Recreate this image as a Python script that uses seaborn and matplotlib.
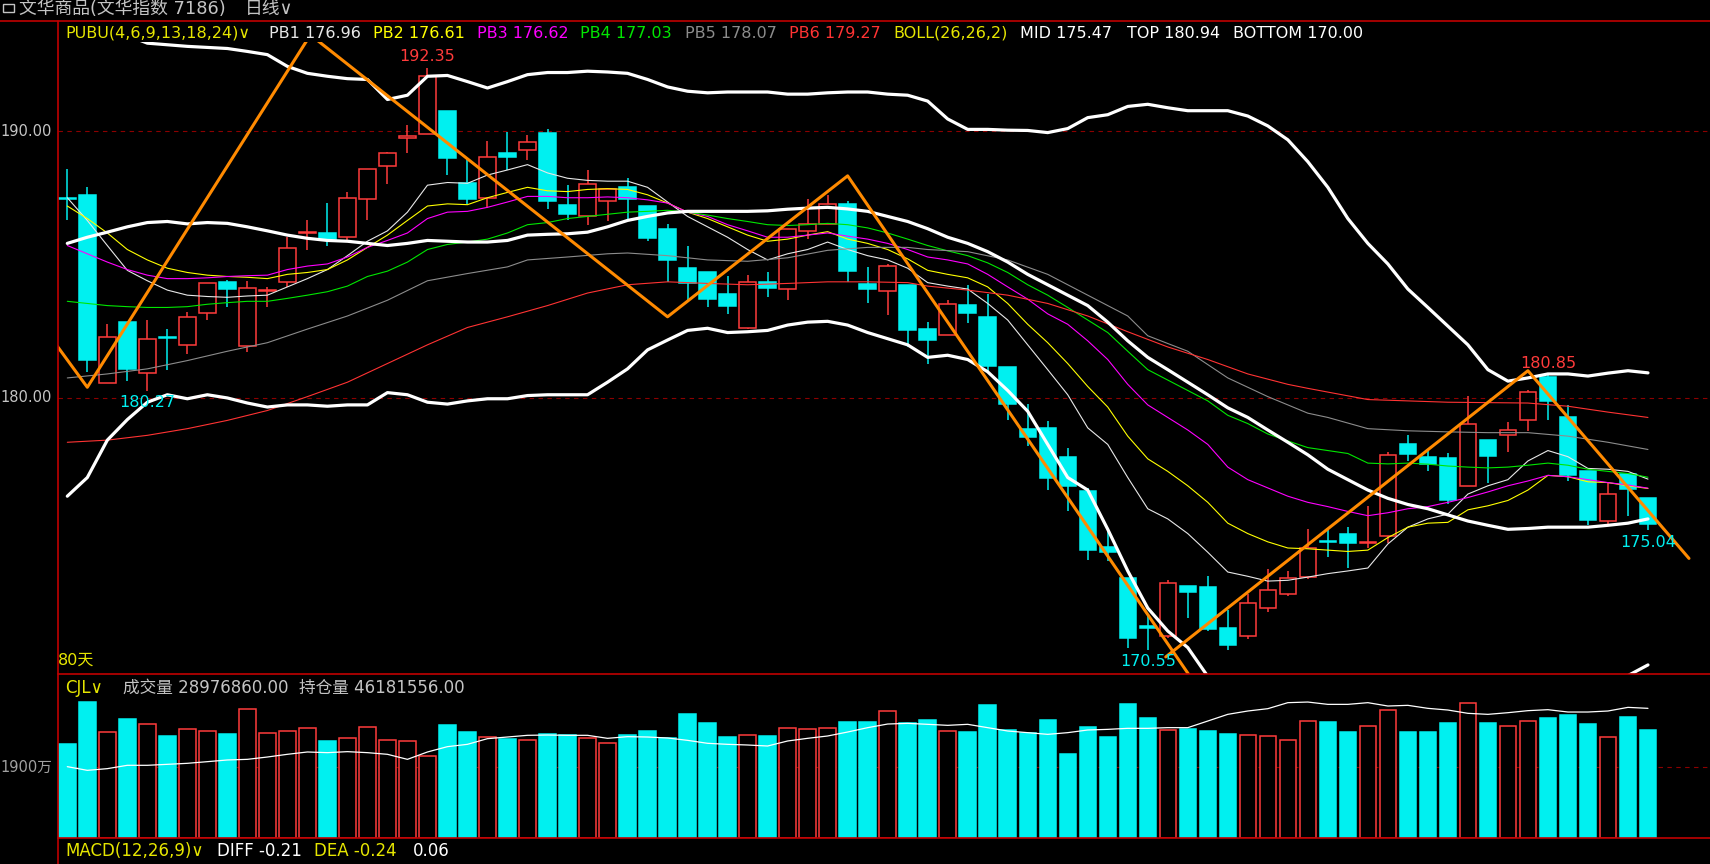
import numpy as np
import pandas as pd
import matplotlib
matplotlib.use("Agg")
import matplotlib.pyplot as plt
from matplotlib.patches import Rectangle
from matplotlib.lines import Line2D
import seaborn as sns

sns.set_theme(style="dark", rc={"axes.facecolor": "black", "figure.facecolor": "black"})
plt.rcParams["font.family"] = ["DejaVu Sans", "Noto Sans CJK SC"]

# ── data (80 daily bars) ──────────────────────────────────────────────
opens = [187.47, 187.61, 180.56, 182.84, 180.93, 182.28, 181.99, 183.20, 184.35, 181.94,
         184.02, 184.36, 186.18, 186.18, 186.02, 187.45, 188.70, 189.72, 189.88, 190.76,
         188.04, 187.50, 189.18, 189.29, 189.94, 187.24, 186.83, 187.38, 187.89, 187.19,
         186.34, 184.88, 184.72, 183.90, 182.61, 184.35, 184.08, 186.27, 186.52, 187.27,
         184.27, 184.00, 184.24, 182.58, 182.34, 183.49, 183.04, 181.16, 178.84, 178.88,
         177.80, 176.52, 174.43, 173.26, 171.43, 171.09, 172.94, 172.92, 171.38, 171.07,
         172.13, 172.64, 173.29, 174.62, 174.89, 174.57, 174.84, 178.26, 177.80, 177.75,
         176.71, 178.42, 178.60, 179.16, 180.78, 179.27, 177.25, 175.39, 177.14, 176.24]
highs = [188.59, 187.89, 182.76, 182.84, 182.92, 182.58, 183.23, 184.32, 184.43, 184.39,
         184.16, 186.03, 186.68, 187.30, 187.73, 188.57, 189.21, 190.22, 192.35, 190.76,
         188.94, 189.63, 189.98, 189.84, 190.06, 187.97, 188.54, 187.84, 188.23, 187.19,
         186.52, 185.70, 184.72, 184.58, 184.60, 184.71, 186.34, 187.45, 187.61, 187.38,
         184.91, 185.02, 184.24, 182.84, 183.66, 184.24, 183.90, 181.16, 179.78, 179.15,
         178.14, 176.63, 175.00, 173.26, 171.86, 173.17, 172.94, 173.32, 172.05, 172.67,
         173.60, 173.52, 175.08, 175.08, 175.16, 175.96, 177.98, 178.62, 178.03, 177.95,
         180.06, 178.42, 179.10, 180.31, 180.85, 179.74, 177.25, 176.83, 177.14, 176.27]
lows = [186.68, 180.98, 180.56, 180.62, 180.27, 181.03, 181.65, 182.92, 183.39, 181.71,
        183.39, 184.16, 185.56, 185.71, 185.90, 186.65, 188.00, 189.16, 189.88, 188.35,
        187.27, 187.11, 188.54, 188.93, 187.08, 186.68, 186.46, 186.61, 186.68, 185.87,
        184.35, 183.62, 183.39, 183.15, 182.58, 183.77, 183.66, 185.95, 186.52, 184.36,
        183.54, 183.12, 181.91, 181.29, 182.34, 182.80, 180.98, 179.19, 178.21, 176.55,
        175.78, 173.94, 173.91, 170.65, 170.55, 171.00, 171.77, 171.27, 170.57, 170.96,
        171.97, 172.59, 173.21, 174.04, 173.63, 174.38, 174.57, 177.64, 177.25, 176.01,
        176.71, 176.83, 177.98, 178.76, 179.16, 176.89, 175.23, 175.23, 175.59, 175.04]
closes = [187.45, 181.44, 182.27, 181.10, 182.20, 182.26, 183.04, 184.32, 184.08, 184.12,
          184.06, 185.61, 186.22, 185.95, 187.48, 188.57, 189.16, 189.81, 192.05, 188.98,
          187.45, 189.02, 189.01, 189.60, 187.39, 186.88, 188.01, 187.84, 187.47, 185.98,
          185.16, 184.32, 183.70, 183.46, 184.35, 184.11, 186.34, 186.52, 187.27, 184.74,
          184.08, 184.94, 182.53, 182.17, 183.51, 183.20, 181.21, 179.77, 178.52, 177.02,
          176.71, 174.30, 174.22, 171.02, 171.40, 173.06, 172.75, 171.35, 170.73, 172.31,
          172.80, 173.26, 174.38, 174.60, 174.58, 174.60, 177.87, 177.90, 177.52, 176.16,
          179.01, 177.83, 178.79, 180.23, 179.89, 177.10, 175.43, 176.40, 176.58, 175.28]

# volume (万手) and its moving average
volume = [2513, 3631, 2824, 3179, 3037, 2726, 2903, 2850, 2779, 3436,
          2797, 2850, 2930, 2593, 2664, 2957, 2619, 2584, 2184, 3019,
          2832, 2690, 2646, 2610, 2770, 2744, 2664, 2531, 2752, 2859,
          2664, 3312, 3072, 2699, 2744, 2726, 2930, 2912, 2930, 3099,
          3099, 3392, 3063, 3152, 2850, 2832, 3552, 2886, 2815, 3152,
          2246, 2966, 2699, 3578, 3205, 2877, 2912, 2859, 2779, 2744,
          2717, 2610, 3117, 3099, 2832, 2983, 3410, 2832, 2832, 3072,
          3596, 3072, 2983, 3117, 3205, 3285, 3046, 2690, 3232, 2898]
vol_ma = [1909, 1811, 1856, 1945, 1945, 1971, 1998, 2042, 2087, 2104,
          2166, 2238, 2300, 2282, 2309, 2282, 2238, 2104, 2300, 2442,
          2504, 2655, 2699, 2744, 2752, 2744, 2744, 2664, 2708, 2699,
          2673, 2610, 2531, 2504, 2486, 2459, 2593, 2664, 2726, 2832,
          2948, 3045, 3063, 3037, 3010, 3037, 2948, 2859, 2815, 2770,
          2815, 2886, 2903, 2930, 2930, 2948, 2948, 3125, 3303, 3392,
          3454, 3614, 3631, 3569, 3569, 3614, 3525, 3543, 3463, 3418,
          3330, 3303, 3347, 3401, 3427, 3365, 3365, 3392, 3489, 3463]

# PUBU lines
pb1 = [187.50, 186.65, 185.71, 184.78, 184.39, 184.04, 183.85, 183.80, 183.77, 183.82,
       183.85, 184.16, 184.47, 184.81, 185.33, 185.87, 186.26, 186.96, 187.97, 188.07,
       188.04, 188.35, 188.54, 188.74, 188.43, 188.23, 188.15, 188.12, 188.12, 187.89,
       187.34, 186.80, 186.41, 186.02, 185.56, 185.17, 185.40, 185.56, 185.84, 185.56,
       185.33, 185.17, 184.86, 184.32, 184.19, 184.08, 183.54, 182.92, 181.99, 181.06,
       180.12, 178.88, 178.26, 177.02, 175.85, 175.47, 174.92, 174.22, 173.48, 173.32,
       173.14, 173.17, 173.29, 173.42, 173.52, 173.63, 174.53, 175.16, 175.47, 175.65,
       176.40, 176.71, 176.94, 177.64, 178.03, 177.80, 177.36, 177.33, 177.25, 176.96]
pb2 = [187.19, 186.72, 186.18, 185.56, 185.17, 184.86, 184.70, 184.60, 184.55, 184.52,
       184.47, 184.63, 184.70, 184.81, 185.17, 185.64, 186.10, 186.65, 187.19, 187.27,
       187.24, 187.50, 187.70, 187.89, 187.76, 187.73, 187.81, 187.84, 187.81, 187.61,
       187.30, 186.96, 186.72, 186.41, 186.10, 185.87, 185.95, 186.10, 186.23, 185.95,
       185.79, 185.56, 185.21, 184.78, 184.63, 184.50, 184.16, 183.54, 182.76, 182.07,
       181.29, 180.43, 179.66, 178.57, 177.72, 177.25, 176.71, 176.09, 175.31, 174.92,
       174.61, 174.38, 174.35, 174.30, 174.25, 174.30, 174.77, 175.16, 175.31, 175.34,
       175.81, 175.96, 176.16, 176.55, 177.10, 177.05, 176.86, 176.83, 176.71, 176.61]
pb3 = [185.71, 185.40, 185.09, 184.81, 184.60, 184.47, 184.47, 184.50, 184.55, 184.58,
       184.60, 184.81, 184.94, 185.02, 185.28, 185.64, 185.90, 186.18, 186.72, 186.96,
       186.99, 187.14, 187.34, 187.55, 187.55, 187.50, 187.50, 187.53, 187.50, 187.42,
       187.30, 186.96, 186.80, 186.49, 186.26, 186.02, 186.02, 186.10, 186.18, 186.06,
       185.95, 185.79, 185.56, 185.28, 185.17, 185.02, 184.63, 184.16, 183.70, 183.15,
       182.76, 182.14, 181.44, 180.51, 179.74, 179.27, 178.80, 178.26, 177.41, 176.94,
       176.63, 176.32, 176.09, 175.93, 175.75, 175.59, 175.70, 175.85, 175.93, 176.09,
       176.27, 176.48, 176.71, 176.89, 177.10, 177.05, 176.94, 176.83, 176.74, 176.62]
pb4 = [183.62, 183.54, 183.46, 183.42, 183.39, 183.39, 183.42, 183.51, 183.57, 183.62,
       183.62, 183.73, 183.85, 183.98, 184.19, 184.55, 184.75, 185.09, 185.56, 185.75,
       185.84, 185.95, 186.18, 186.49, 186.57, 186.72, 186.80, 186.88, 186.96, 186.99,
       187.03, 186.96, 186.85, 186.72, 186.61, 186.49, 186.46, 186.49, 186.54, 186.49,
       186.37, 186.18, 185.95, 185.71, 185.51, 185.33, 185.06, 184.70, 184.24, 183.85,
       183.39, 182.92, 182.45, 181.75, 181.06, 180.67, 180.28, 179.89, 179.35, 179.04,
       178.65, 178.39, 178.14, 178.03, 177.92, 177.56, 177.53, 177.56, 177.52, 177.45,
       177.41, 177.38, 177.41, 177.48, 177.56, 177.48, 177.33, 177.25, 177.17, 177.03]
pb5_idx = [0, 2, 4, 6, 8, 10, 12, 14, 16, 18, 20, 22, 23, 25, 27, 28, 30, 32, 34, 36, 38, 40,
           42, 43, 45, 47, 49, 51, 53, 54, 56, 58, 60, 62, 63, 65, 67, 69, 71, 73, 75, 77, 79]
pb5 = [180.75, 180.90, 181.09, 181.40, 181.75, 182.07, 182.58, 183.07, 183.66, 184.39, 184.66,
       184.91, 185.17, 185.28, 185.40, 185.43, 185.33, 185.17, 185.12, 185.25, 185.53, 185.64,
       185.64, 185.56, 185.48, 185.17, 184.63, 183.85, 183.07, 182.33, 181.75, 180.75, 180.05,
       179.43, 179.27, 178.85, 178.77, 178.73, 178.70, 178.70, 178.57, 178.34, 178.07]
pb6_idx = [0, 2, 4, 6, 8, 10, 12, 14, 16, 18, 20, 22, 24, 26, 28, 30, 32, 34, 36, 38, 40,
           42, 43, 45, 47, 49, 51, 53, 55, 57, 59, 61, 62, 65, 69, 73, 75, 77, 79]
pb6 = [178.34, 178.42, 178.60, 178.85, 179.16, 179.53, 180.05, 180.59, 181.29, 181.99, 182.64,
       183.04, 183.46, 183.93, 184.24, 184.35, 184.29, 184.24, 184.29, 184.35, 184.35,
       184.32, 184.19, 184.04, 183.85, 183.54, 183.07, 182.48, 181.91, 181.44, 180.90, 180.51,
       180.36, 179.94, 179.84, 179.81, 179.69, 179.47, 179.27]

# BOLL(26,26,2)
boll_top = [193.65, 193.65, 193.62, 193.58, 193.29, 193.23, 193.17, 193.13, 193.09, 192.98,
            192.86, 192.42, 192.16, 192.05, 191.96, 191.93, 191.18, 191.34, 192.05, 192.08,
            191.85, 191.61, 191.85, 192.11, 192.19, 192.19, 192.24, 192.21, 192.16, 191.93,
            191.65, 191.49, 191.43, 191.46, 191.46, 191.46, 191.38, 191.38, 191.43, 191.46,
            191.46, 191.38, 191.34, 191.12, 190.45, 190.06, 190.06, 190.03, 190.02, 189.94,
            190.09, 190.50, 190.61, 190.92, 191.00, 190.87, 190.76, 190.76, 190.76, 190.56,
            190.19, 189.67, 188.85, 187.89, 186.72, 185.79, 185.02, 184.08, 183.39, 182.69,
            181.99, 181.06, 180.63, 180.75, 180.90, 180.90, 180.82, 180.93, 181.02, 180.94]
boll_mid = [185.79, 186.02, 186.21, 186.41, 186.57, 186.61, 186.52, 186.57, 186.54, 186.41,
            186.26, 186.10, 185.98, 185.90, 185.87, 185.79, 185.71, 185.79, 185.90, 185.87,
            185.84, 185.84, 185.90, 186.10, 186.13, 186.15, 186.21, 186.41, 186.65, 186.80,
            186.93, 186.99, 186.99, 186.99, 186.99, 187.01, 187.07, 187.11, 187.14, 187.08,
            186.99, 186.80, 186.61, 186.34, 186.02, 185.79, 185.48, 185.09, 184.63, 184.24,
            183.85, 183.46, 182.84, 182.14, 181.52, 181.06, 180.59, 180.12, 179.63, 179.27,
            178.80, 178.34, 177.87, 177.33, 176.94, 176.55, 176.24, 176.01, 175.85, 175.62,
            175.39, 175.23, 175.08, 175.11, 175.16, 175.16, 175.16, 175.23, 175.31, 175.47]
boll_bot = [176.32, 177.02, 178.42, 179.19, 179.84, 180.12, 179.97, 180.12, 180.00, 179.81,
            179.66, 179.74, 179.74, 179.69, 179.74, 179.74, 180.20, 180.12, 179.84, 179.77,
            179.89, 179.97, 179.97, 180.09, 180.12, 180.12, 180.12, 180.59, 181.09, 181.80,
            182.17, 182.53, 182.61, 182.45, 182.48, 182.53, 182.73, 182.84, 182.87, 182.73,
            182.45, 182.22, 181.99, 181.52, 181.60, 181.44, 180.98, 180.28, 179.50, 178.26,
            177.02, 176.55, 175.08, 173.52, 172.13, 171.27, 170.65, 169.57, 168.50, 167.98,
            167.41, 166.90, 166.89, 166.77, 167.16, 167.31, 167.46, 167.94, 168.31, 168.55,
            168.79, 169.40, 169.53, 169.45, 169.42, 169.42, 169.50, 169.53, 169.60, 170.00]

# zigzag (two drawn legs)
zig_a_x = [-1, 1, 12.15, 30, 39, 57.5]
zig_a_y = [182.45, 180.40, 193.60, 183.04, 188.32, 168.05]
zig_b_x = [54.9, 73, 81.05]
zig_b_y = [170.30, 181.02, 173.99]

# extreme price labels: (bar index, text, above/below)
extremes = [(18, "192.35", "above"), (4, "180.27", "below"),
            (54, "170.55", "below"), (74, "180.85", "above"),
            (79, "175.04", "below")]

# ── style ─────────────────────────────────────────────────────────────
RED = "#FF3B3B"
CYAN = "#00F0F0"
FRAME = "#C00000"
GRID = "#8C0000"
YEL = "#E6E600"
GREY_TXT = "#C4C4C4"
W, H = 1710, 864
AX_L = 57.7


def fx(px):
    return px / W


def fy(py):
    return 1 - py / H


df = pd.DataFrame({"open": opens, "high": highs, "low": lows, "close": closes,
                   "volume": volume, "vol_ma": vol_ma})
x = np.arange(len(df))
up = (df["close"] >= df["open"]).values
edge = np.where(up, RED, CYAN)
face = np.where(up, "black", CYAN)

fig = plt.figure(figsize=(17.1, 8.64), dpi=100)
fig.patch.set_facecolor("black")
ax = fig.add_axes([fx(AX_L), fy(674), 1 - fx(AX_L), (674 - 21) / H])
axv = fig.add_axes([fx(AX_L), fy(838.3), 1 - fx(AX_L), (838.3 - 674) / H])
for a in (ax, axv):
    a.set_facecolor("black")
    a.set_xlim(-0.48, 82.1)
    a.set_xticks([])
    a.set_yticks([])
    a.grid(False)
    for s in a.spines.values():
        s.set_visible(False)
ax.set_ylim(169.66, 194.12)
axv.set_ylim(0, 4378)

# grid
for lvl in (190, 180):
    ax.axhline(lvl, color=GRID, lw=0.8, ls=(0, (4, 4)), zorder=1)
axv.axhline(1900, color=GRID, lw=0.8, ls=(0, (4, 4)), zorder=1)

# candles
ax.vlines(x, df["low"], df["high"], colors=edge, lw=1.1, zorder=2)
body_lo = np.minimum(df["open"], df["close"])
body_h = np.maximum((df["close"] - df["open"]).abs(), 0.04)
ax.bar(x, body_h, bottom=body_lo, width=0.82, color=face, edgecolor=edge,
       linewidth=1.1, zorder=2.5)

# PUBU
for xs, ys, col in [(x, pb1, "#E8E8E8"), (x, pb2, "#FFFF00"), (x, pb3, "#FF00FF"),
                    (x, pb4, "#00E600"), (pb5_idx, pb5, "#8C8C8C"), (pb6_idx, pb6, "#FF3333")]:
    sns.lineplot(x=xs, y=ys, ax=ax, color=col, linewidth=0.8, estimator=None,
                 legend=False, zorder=3)
# BOLL
for ys in (boll_top, boll_mid, boll_bot):
    sns.lineplot(x=x, y=ys, ax=ax, color="white", linewidth=2.3, estimator=None,
                 legend=False, zorder=3.2)
# zigzag
for zx, zy in ((zig_a_x, zig_a_y), (zig_b_x, zig_b_y)):
    sns.lineplot(x=zx, y=zy, ax=ax, color="#FF8A00", linewidth=2.2, estimator=None,
                 sort=False, legend=False, zorder=4)

for i, txt, pos in extremes:
    if pos == "above":
        ax.annotate(txt, xy=(i, df["high"][i]), xytext=(0, 3), textcoords="offset points",
                    ha="center", va="bottom", color=RED, fontsize=11.5, zorder=6)
    else:
        ax.annotate(txt, xy=(i, df["low"][i]), xytext=(0, -3), textcoords="offset points",
                    ha="center", va="top", color=CYAN, fontsize=11.5, zorder=6)

# mask under the indicator legend row
ax.add_patch(Rectangle((0, 1 - 21 / 653), 1, 21 / 653, transform=ax.transAxes,
                       facecolor="black", edgecolor="none", zorder=7))

# volume panel
axv.bar(x, df["volume"], width=0.82, color=face, edgecolor=edge, linewidth=1.1, zorder=2)
sns.lineplot(x=x, y=df["vol_ma"], ax=axv, color="white", linewidth=0.9,
             estimator=None, legend=False, zorder=3)

# frame lines
for xs, ys in [([0, 1], [fy(20.7)] * 2), ([fx(AX_L), 1], [fy(674)] * 2),
               ([fx(AX_L), 1], [fy(838.3)] * 2), ([fx(AX_L)] * 2, [fy(20.7), 0])]:
    fig.add_artist(Line2D(xs, ys, color=FRAME, lw=1.2))


def ftext(px, py, s, color, size=11.5, ha="left"):
    fig.text(fx(px), fy(py), s, color=color, fontsize=size, ha=ha, va="center")


# title bar
fig.add_artist(Rectangle((fx(3), fy(12)), 11 / W, 8 / H, facecolor="none",
                         edgecolor=GREY_TXT, lw=1))
ftext(19, 9, "文华商品(文华指数 7186)", GREY_TXT, 12.8)
ftext(245, 9, "日线∨", GREY_TXT, 12.8)

# indicator legend
legend_row = [(65, "PUBU(4,6,9,13,18,24)∨", YEL), (269, "PB1 176.96", "#E8E8E8"),
              (373, "PB2 176.61", "#FFFF00"), (477, "PB3 176.62", "#FF00FF"),
              (580, "PB4 177.03", "#00E600"), (685, "PB5 178.07", "#8C8C8C"),
              (789, "PB6 179.27", "#FF3333"), (893, "BOLL(26,26,2)", YEL),
              (1020, "MID 175.47", "white"), (1127, "TOP 180.94", "white"),
              (1233, "BOTTOM 170.00", "white")]
for px, s, c in legend_row:
    ftext(px, 33.5, s, c)

ftext(52, 131, "190.00", GREY_TXT, 10.5, ha="right")
ftext(52, 398, "180.00", GREY_TXT, 10.5, ha="right")
ftext(58, 660, "80天", YEL, 11.5)

ftext(65, 688, "CJL∨", YEL, 12)
ftext(123, 688, "成交量 28976860.00", GREY_TXT, 12)
ftext(299, 688, "持仓量 46181556.00", GREY_TXT, 12)
ftext(52, 767, "1900万", "#A0A0A0", 10.5, ha="right")

ftext(65, 851, "MACD(12,26,9)∨", YEL, 12)
ftext(217, 851, "DIFF -0.21", "white", 12)
ftext(314, 851, "DEA -0.24", YEL, 12)
ftext(413, 851, "0.06", "white", 12)

fig.savefig("out.png", dpi=100, facecolor="black")
plt.close(fig)
